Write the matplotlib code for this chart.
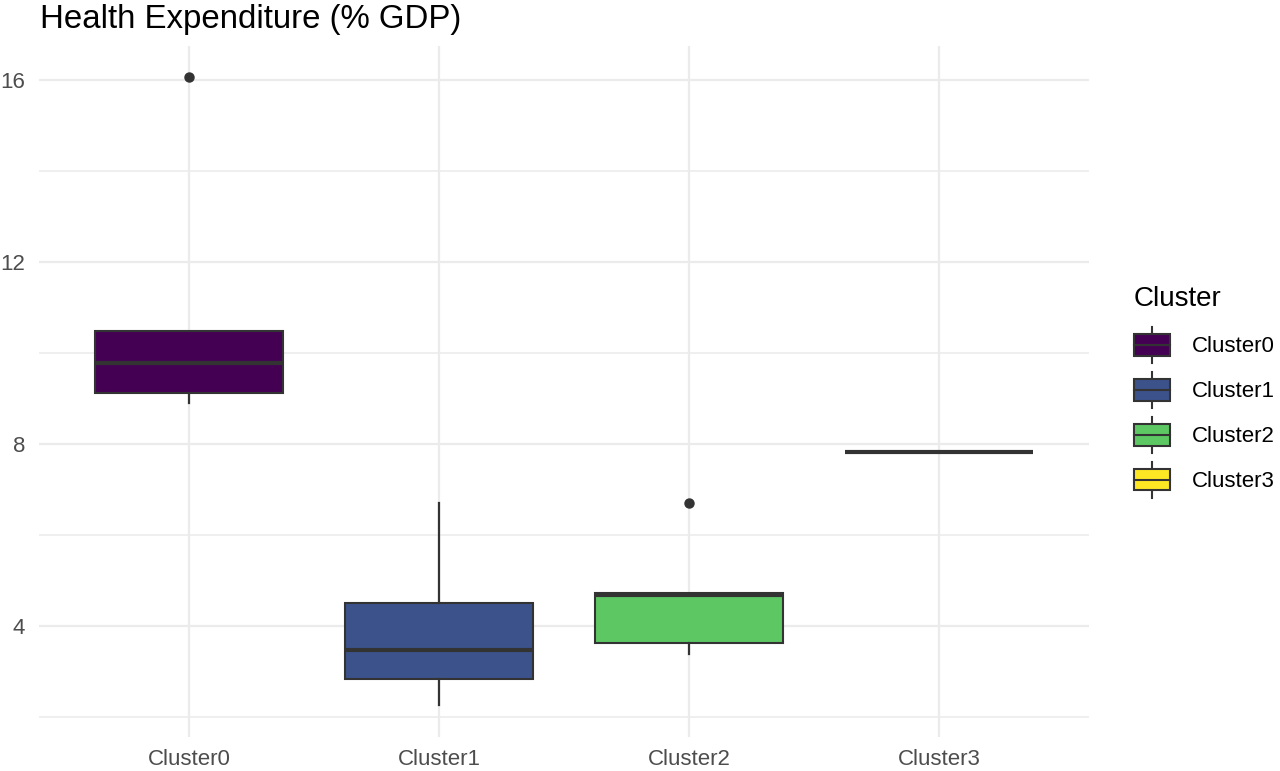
import matplotlib
matplotlib.use("Agg")
import matplotlib.pyplot as plt
from matplotlib.patches import Rectangle
from matplotlib.lines import Line2D
from matplotlib.legend_handler import HandlerBase

plt.rcParams["font.family"] = ["Liberation Sans", "DejaVu Sans"]

# ── data ──
clusters = ["Cluster0", "Cluster1", "Cluster2", "Cluster3"]
whis_lo = [8.89, 2.26, 3.38, 7.82]
q1 = [9.11, 2.84, 3.62, 7.82]
medians = [9.77, 3.47, 4.69, 7.82]
q3 = [10.48, 4.50, 4.72, 7.82]
whis_hi = [10.48, 6.70, 4.72, 7.82]
outliers = [[16.05], [], [6.71], []]
fills = ["#440154", "#3B528B", "#5DC863", "#FDE725"]

EDGE = "#333333"
GRID = "#EBEBEB"
TICK_TEXT = "#4D4D4D"


class BoxKeyHandler(HandlerBase):
    """Legend key drawn like ggplot's boxplot glyph."""
    def create_artists(self, legend, orig_handle, xdescent, ydescent,
                       width, height, fontsize, trans):
        x0, y0 = -xdescent, -ydescent
        fc = orig_handle.get_facecolor()
        box = Rectangle((x0, y0 + 0.2 * height), width, 0.6 * height,
                        facecolor=fc, edgecolor=EDGE, linewidth=1.5,
                        transform=trans)
        xm = x0 + width / 2
        top = Line2D([xm, xm], [y0 + 0.8 * height, y0 + height],
                     color=EDGE, linewidth=1.5, transform=trans)
        bot = Line2D([xm, xm], [y0, y0 + 0.2 * height],
                     color=EDGE, linewidth=1.5, transform=trans)
        med = Line2D([x0, x0 + width], [y0 + 0.5 * height] * 2,
                     color=EDGE, linewidth=1.5, transform=trans)
        return [top, bot, box, med]


fig = plt.figure(figsize=(12.8, 7.71), dpi=100)
ax = fig.add_axes([39 / 1280, 1 - 736.6 / 771, 1050 / 1280, (736.6 - 46) / 771])

stats = []
for i, name in enumerate(clusters):
    stats.append(dict(label=name, whislo=whis_lo[i], q1=q1[i], med=medians[i],
                      q3=q3[i], whishi=whis_hi[i], fliers=outliers[i]))

pos = list(range(1, len(clusters) + 1))
bp = ax.bxp(stats, positions=pos, widths=0.75, patch_artist=True,
            showcaps=False, showfliers=True,
            boxprops=dict(edgecolor=EDGE, linewidth=1.5),
            whiskerprops=dict(color=EDGE, linewidth=1.6),
            medianprops=dict(color=EDGE, linewidth=3.0, solid_capstyle="butt"),
            flierprops=dict(marker="o", markersize=6.5, markerfacecolor=EDGE,
                            markeredgecolor=EDGE))
for patch, c in zip(bp["boxes"], fills):
    patch.set_facecolor(c)
    patch.set_zorder(3)
for ln in bp["medians"] + bp["whiskers"] + bp["fliers"]:
    ln.set_zorder(4)

ax.set_xlim(0.4, 4.6)
ax.set_ylim(1.57, 16.74)
ax.set_xticks(pos)
ax.set_xticklabels(clusters)
ax.set_yticks([4, 8, 12, 16])
ax.set_yticks([2, 6, 10, 14], minor=True)
ax.tick_params(axis="both", which="both", length=0, labelsize=16,
               labelcolor=TICK_TEXT)
ax.tick_params(axis="y", pad=10)
ax.tick_params(axis="x", pad=9)
ax.grid(which="major", color=GRID, linewidth=1.6, zorder=0)
ax.grid(which="minor", axis="y", color=GRID, linewidth=1.1, zorder=0)
ax.set_axisbelow(True)
for s in ax.spines.values():
    s.set_visible(False)

fig.text(40 / 1280, 1 - 28 / 771, "Health Expenditure (% GDP)",
         fontsize=23.8, color="black", va="baseline", ha="left")

handles = [Rectangle((0, 0), 1, 1, facecolor=c) for c in fills]
leg = fig.legend(handles, clusters, title="Cluster",
                 handler_map={Rectangle: BoxKeyHandler()},
                 loc="upper left", bbox_to_anchor=(1134 / 1280, 1 - 286 / 771),
                 frameon=False, fontsize=16, title_fontsize=20,
                 handlelength=1.62, handleheight=2.11, labelspacing=0.4,
                 handletextpad=1.0, borderpad=0, borderaxespad=0,
                 alignment="left")
# a bit more room between the legend title and the keys
leg._legend_box.sep = 11

fig.savefig("out.png", dpi=100, facecolor="white")
